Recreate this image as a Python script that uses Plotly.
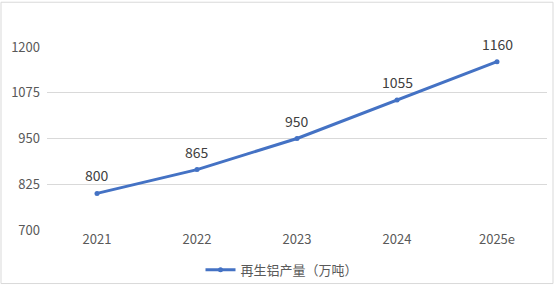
import plotly.graph_objects as go

years = ["2021", "2022", "2023", "2024", "2025e"]
output = [800, 865, 950, 1055, 1160]
series_name = "再生铝产量（万吨）"
y_ticks = [700, 825, 950, 1075, 1200]

FONT = "Noto Sans CJK SC, Microsoft YaHei, sans-serif"

fig = go.Figure()
fig.add_trace(go.Scatter(
    x=years, y=output, name=series_name,
    mode="lines+markers",
    line=dict(color="#4472C4", width=3),
    marker=dict(color="#4472C4", size=5),
    cliponaxis=False,
))

for i, v in enumerate(output):
    fig.add_annotation(x=i, y=v, xref="x", yref="y", text=str(v), showarrow=False,
                       yshift=18, font=dict(size=14, color="#404040", family=FONT))

fig.update_layout(
    width=554, height=292,
    margin=dict(l=47, r=7, t=47, b=57),
    paper_bgcolor="white", plot_bgcolor="white",
    font=dict(family=FONT, size=13, color="#595959"),
    showlegend=True,
    legend=dict(orientation="h", x=0.47, xanchor="center", y=-0.218, yanchor="middle",
                font=dict(size=13, color="#595959"), bgcolor="rgba(0,0,0,0)"),
    xaxis=dict(type="category", range=[-0.5, 4.5], showgrid=False, showline=False,
               zeroline=False, ticks="", tickfont=dict(size=13, color="#595959")),
    yaxis=dict(range=[700, 1200], tickvals=y_ticks, showgrid=True, gridcolor="#D9D9D9",
               gridwidth=1, zeroline=False, showline=False, ticks="", ticklabelstandoff=6,
               tickfont=dict(size=13, color="#595959")),
    shapes=[dict(type="rect", xref="paper", yref="paper",
                 x0=-0.092, x1=1.012, y0=-0.2926, y1=1.2447,
                 line=dict(color="#D9D9D9", width=1), fillcolor="rgba(0,0,0,0)", layer="below")],
)

fig.write_html("out.html")
